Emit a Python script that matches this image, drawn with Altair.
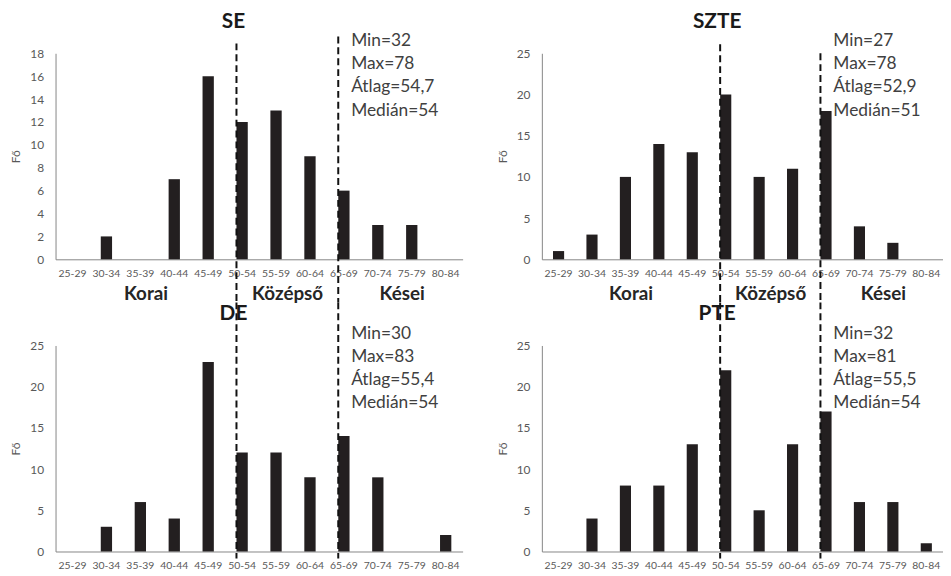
import altair as alt
import pandas as pd

FONT = "Lato"

cats = ["25-29", "30-34", "35-39", "40-44", "45-49", "50-54",
        "55-59", "60-64", "65-69", "70-74", "75-79", "80-84"]

se_values = [0, 2, 0, 7, 16, 12, 13, 9, 6, 3, 3, 0]
szte_values = [1, 3, 10, 14, 13, 20, 10, 11, 18, 4, 2, 0]
de_values = [0, 3, 6, 4, 23, 12, 12, 9, 14, 9, 0, 2]
pte_values = [0, 4, 8, 8, 13, 22, 5, 13, 17, 6, 6, 1]

se_stats = ["Min=32", "Max=78", "Átlag=54,7", "Medián=54"]
szte_stats = ["Min=27", "Max=78", "Átlag=52,9", "Medián=51"]
de_stats = ["Min=30", "Max=83", "Átlag=55,4", "Medián=54"]
pte_stats = ["Min=32", "Max=81", "Átlag=55,5", "Medián=54"]

boundaries = ["50-54", "65-69"]
zones = ["Korai", "Középső", "Kései"]
y_title = "Fő"

W_LEFT = 411
W_RIGHT = 405
H = 208
ROW_GAP = 87
COL_GAP = 80

X_AXIS = alt.Axis(title=None, labelAngle=0, ticks=False, tickSize=0,
                  domainColor="#868686", domainWidth=1,
                  labelColor="#595959", labelFontSize=10.5,
                  labelFont=FONT, labelPadding=9)


def xenc(field="cat", band_pos=None):
    kw = dict(sort=cats, axis=X_AXIS,
              scale=alt.Scale(domain=cats, paddingInner=0.667, paddingOuter=0.333))
    if band_pos is not None:
        kw["bandPosition"] = band_pos
    return alt.X(f"{field}:N", **kw)


def panel(name, values, stats, ymax, ystep, width, top_row, rule_starts):
    df = pd.DataFrame({"cat": cats, "n": values})
    bars = alt.Chart(df).mark_bar(color="#231f20").encode(
        x=xenc(),
        y=alt.Y("n:Q",
                scale=alt.Scale(domain=[0, ymax], nice=False, zero=True),
                axis=alt.Axis(values=list(range(0, ymax + 1, ystep)),
                              title=y_title, grid=False, ticks=False, tickSize=0,
                              domainColor="#868686", domainWidth=1,
                              labelColor="#595959", labelFontSize=12,
                              labelFont=FONT, labelPadding=12,
                              titleFont=FONT, titleFontSize=12,
                              titleFontWeight="normal", titleColor="#595959",
                              titlePadding=7)),
    )
    layers = [bars]

    # panel title, centred on the first boundary line
    tdf = pd.DataFrame({"cat": [boundaries[0]], "t": [name]})
    layers.append(alt.Chart(tdf).mark_text(
        font=FONT, fontSize=21, fontWeight="bold", color="#1a1a1a",
        baseline="middle", align="center", dx=-3,
    ).encode(x=xenc(band_pos=0), y=alt.value(-32), text="t:N"))

    # dashed boundary lines
    bdf = pd.DataFrame({"cat": boundaries})
    for i, b in enumerate(boundaries):
        if top_row:
            y0, y1 = rule_starts[i], H + ROW_GAP / 2
        else:
            y0, y1 = -ROW_GAP / 2, H + 7
        layers.append(alt.Chart(bdf[bdf.cat == b]).mark_rule(
            color="#111111", strokeWidth=2, strokeDash=[7, 4],
        ).encode(x=xenc(band_pos=0), y=alt.value(y0), y2=alt.value(y1)))

    # statistics block
    sdf = pd.DataFrame({"cat": [boundaries[1]], "t": ["\n".join(stats)]})
    layers.append(alt.Chart(sdf).mark_text(
        font=FONT, fontSize=17.5, color="#404040", align="left",
        baseline="alphabetic", lineBreak="\n", lineHeight=23.3, dx=13,
    ).encode(x=xenc(band_pos=0), y=alt.value(-7), text="t:N"))

    # phase labels under the top row
    if top_row:
        anchors = [("35-39", 1.0, 0), ("55-59", 1.0, 6), ("75-79", 0.0, -4)]
        for z, (cat, bp, dx) in zip(zones, anchors):
            zdf = pd.DataFrame({"cat": [cat], "t": [z]})
            layers.append(alt.Chart(zdf).mark_text(
                font=FONT, fontSize=19, fontWeight="bold", color="#262626",
                baseline="middle", align="center", dx=dx,
            ).encode(x=xenc(band_pos=bp), y=alt.value(H + 35), text="t:N"))

    return alt.layer(*layers).properties(width=width, height=H)


se = panel("SE", se_values, se_stats, 18, 2, W_LEFT, True, [-10, -17])
szte = panel("SZTE", szte_values, szte_stats, 25, 5, W_RIGHT, True, [-9, 0])
de = panel("DE", de_values, de_stats, 25, 5, W_LEFT, False, None)
pte = panel("PTE", pte_values, pte_stats, 25, 5, W_RIGHT, False, None)

chart = alt.concat(
    se, szte, de, pte, columns=2,
    spacing={"row": ROW_GAP, "column": COL_GAP}, bounds="flush",
).properties(
    padding={"left": 2, "top": 0, "right": 0, "bottom": 0},
    background="white",
).configure_view(stroke=None)

chart.save("out.html", embed_options={"renderer": "svg", "actions": False})
